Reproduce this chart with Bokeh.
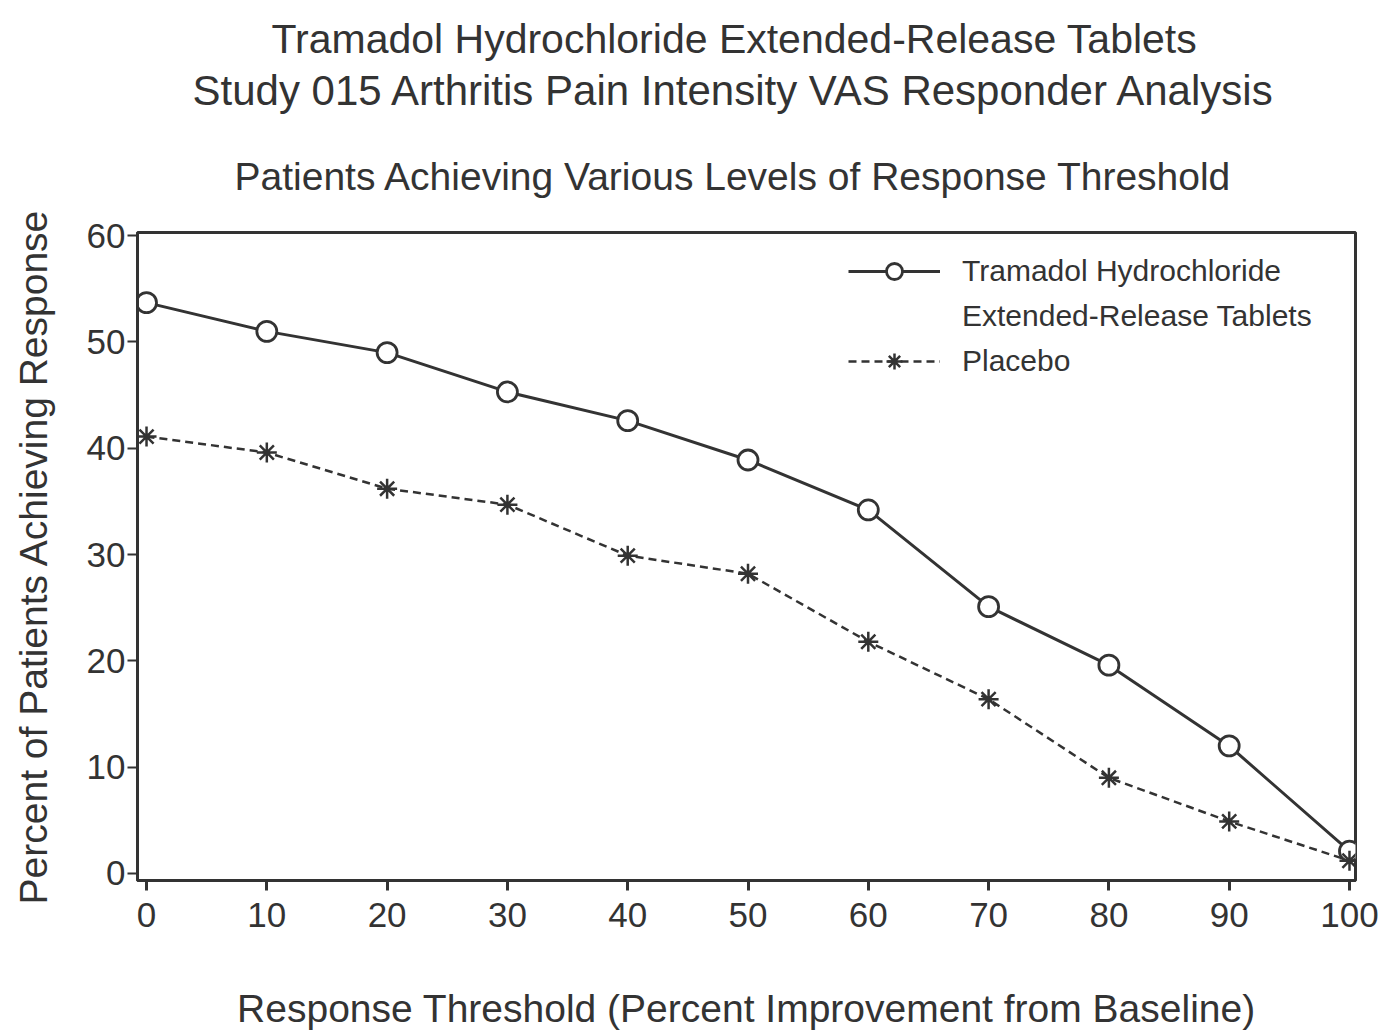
from bokeh.plotting import figure
from bokeh.models import Title, Legend, LegendItem, FixedTicker, Range1d
from bokeh.embed import file_html
from bokeh.resources import INLINE

thresholds = [0, 10, 20, 30, 40, 50, 60, 70, 80, 90, 100]
tramadol = [53.7, 51.0, 49.0, 45.3, 42.6, 38.9, 34.2, 25.1, 19.6, 12.0, 2.1]
placebo = [41.1, 39.6, 36.2, 34.7, 29.9, 28.2, 21.8, 16.4, 9.0, 4.9, 1.2]
x_ticks = [0, 10, 20, 30, 40, 50, 60, 70, 80, 90, 100]
y_ticks = [0, 10, 20, 30, 40, 50, 60]

FONT = "Liberation Sans"
INK = "#333333"

p = figure(width=1380, height=1032, output_backend="svg", toolbar_location=None,
           x_range=Range1d(-0.75, 100.5), y_range=Range1d(-0.66, 60.3),
           min_border_left=137, min_border_right=25, min_border_bottom=152,
           min_border_top=0)

p.add_layout(Title(text="Patients Achieving Various Levels of Response Threshold", align="left",
                   text_font=FONT, text_font_size="39px", text_font_style="normal",
                   text_color=INK, standoff=69, offset=97), "above")
p.add_layout(Title(text="Study 015 Arthritis Pain Intensity VAS Responder Analysis", align="left",
                   text_font=FONT, text_font_size="42px", text_font_style="normal",
                   text_color=INK, standoff=9, offset=55), "above")
p.add_layout(Title(text="Tramadol Hydrochloride Extended-Release Tablets", align="left",
                   text_font=FONT, text_font_size="41px", text_font_style="normal",
                   text_color=INK, standoff=-3, offset=134), "above")
p.add_layout(Title(text=" ", text_font_size="1px", standoff=12), "above")

p.grid.visible = False
p.outline_line_color = INK
p.outline_line_width = 3
p.background_fill_color = "white"
p.border_fill_color = "white"

for ax in (p.xaxis[0], p.yaxis[0]):
    ax.axis_line_width = 3
    ax.axis_line_color = INK
    ax.major_tick_line_width = 3
    ax.major_tick_line_color = INK
    ax.major_tick_out = 10
    ax.major_tick_in = 0
    ax.minor_tick_line_color = None
    ax.major_label_text_font = FONT
    ax.major_label_text_font_size = "35px"
    ax.major_label_text_color = INK
    ax.axis_label_text_font = FONT
    ax.axis_label_text_font_size = "39px"
    ax.axis_label_text_font_style = "normal"
    ax.axis_label_text_color = INK

p.yaxis.major_tick_line_width = 2
p.xaxis.ticker = FixedTicker(ticks=x_ticks)
p.yaxis.ticker = FixedTicker(ticks=y_ticks)
p.xaxis.axis_label = "Response Threshold (Percent Improvement from Baseline)"
p.yaxis.axis_label = "Percent of Patients Achieving Response"
p.xaxis.axis_label_standoff = 57
p.yaxis.axis_label_standoff = 29
p.xaxis.major_label_standoff = 12
p.yaxis.major_label_standoff = 2

l1 = p.line(thresholds, tramadol, line_color=INK, line_width=3)
m1 = p.scatter(thresholds, tramadol, marker="circle", size=20, fill_color="white",
               line_color=INK, line_width=2.8)
l2 = p.line(thresholds, placebo, line_color=INK, line_width=2.5, line_dash="8 5")
m2 = p.scatter(thresholds, placebo, marker="asterisk", size=20, line_color=INK, line_width=2.5)

legend = Legend(items=[
    LegendItem(label="Tramadol Hydrochloride", renderers=[l1, m1]),
    LegendItem(label="Extended-Release Tablets", renderers=[]),
    LegendItem(label="Placebo", renderers=[l2, m2]),
], location=(711, 499))
legend.border_line_color = None
legend.background_fill_alpha = 0
legend.label_text_font = FONT
legend.label_text_font_size = "30px"
legend.label_text_color = INK
legend.glyph_width = 92
legend.glyph_height = 40
legend.label_standoff = 22
legend.label_height = 40
legend.spacing = 5
legend.padding = 10
legend.margin = 0
p.add_layout(legend)

open("out.html", "w").write(file_html(p, INLINE))
